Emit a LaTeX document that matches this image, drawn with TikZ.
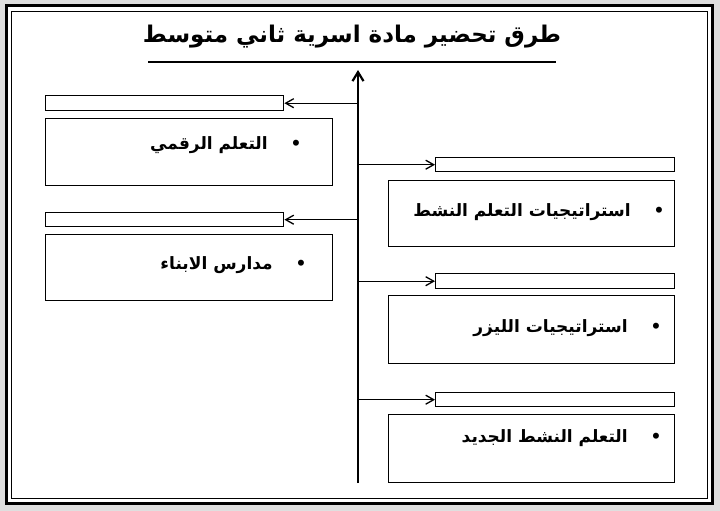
\documentclass[tikz,border=0pt]{standalone}
\usepackage{fontspec}
\newfontfamily\arabicfont[Script=Arabic]{DejaVu Sans}
\TeXXeTstate=1
\usetikzlibrary{arrows.meta}
\begin{document}
\begin{tikzpicture}[x=1pt,y=-1pt,
  smallbox/.style={draw,line width=1.4pt},
  bigbox/.style={draw,line width=1.4pt},
  conn/.style={line width=1.3pt,-{Straight Barb[length=8pt,width=9pt]}},
  itemtxt/.style={font=\arabicfont\bfseries\fontsize{17}{20}\selectfont,anchor=east}]
\fill[gray!25] (0,0) rectangle (720,511);
\fill[white] (5,5) rectangle (713,504);
\draw[line width=3pt] (6,6) rectangle (712,503);
\draw[line width=0.8pt] (11,11) rectangle (707,498);
\node[font=\arabicfont\bfseries\fontsize{23}{27}\selectfont] (title) at (352,37) {\beginR طرق تحضير مادة اسرية ثاني متوسط\endR};
\draw[line width=1.5pt] (148,62) -- (556,62);
\coordinate (top) at (358,70);
\coordinate (bot) at (358,483);
\draw[line width=2.2pt,-{Straight Barb[length=9pt,width=11pt]}] (bot) -- (top);
% left
\node[smallbox,minimum width=238,minimum height=15,anchor=north west] (s1) at (45,95) {};
\node[bigbox,minimum width=287,minimum height=67,anchor=north west] (b1) at (45,118) {};
\draw[conn] (s1.east -| top) -- (s1.east);
\node[itemtxt] (t1) at (305,145) {\beginR • \quad التعلم الرقمي\endR};
\node[smallbox,minimum width=238,minimum height=14,anchor=north west] (s2) at (45,212) {};
\node[bigbox,minimum width=287,minimum height=66,anchor=north west] (b2) at (45,234) {};
\draw[conn] (s2.east -| top) -- (s2.east);
\node[itemtxt] (t2) at (310,265) {\beginR • \quad مدارس الابناء\endR};
% right
\node[smallbox,minimum width=239,minimum height=14,anchor=north west] (s3) at (435,157) {};
\node[bigbox,minimum width=286,minimum height=66,anchor=north west] (b3) at (388,180) {};
\draw[conn] (top |- s3.west) -- (s3.west);
\node[itemtxt] (t3) at (668,212) {\beginR • \quad استراتيجيات التعلم النشط\endR};
\node[smallbox,minimum width=239,minimum height=15,anchor=north west] (s4) at (435,273) {};
\node[bigbox,minimum width=286,minimum height=68,anchor=north west] (b4) at (388,295) {};
\draw[conn] (top |- s4.west) -- (s4.west);
\node[itemtxt] (t4) at (665,328) {\beginR • \quad استراتيجيات الليزر\endR};
\node[smallbox,minimum width=239,minimum height=14,anchor=north west] (s5) at (435,392) {};
\node[bigbox,minimum width=286,minimum height=68,anchor=north west] (b5) at (388,414) {};
\draw[conn] (top |- s5.west) -- (s5.west);
\node[itemtxt] (t5) at (665,438) {\beginR • \quad التعلم النشط الجديد\endR};
\end{tikzpicture}
\end{document}
